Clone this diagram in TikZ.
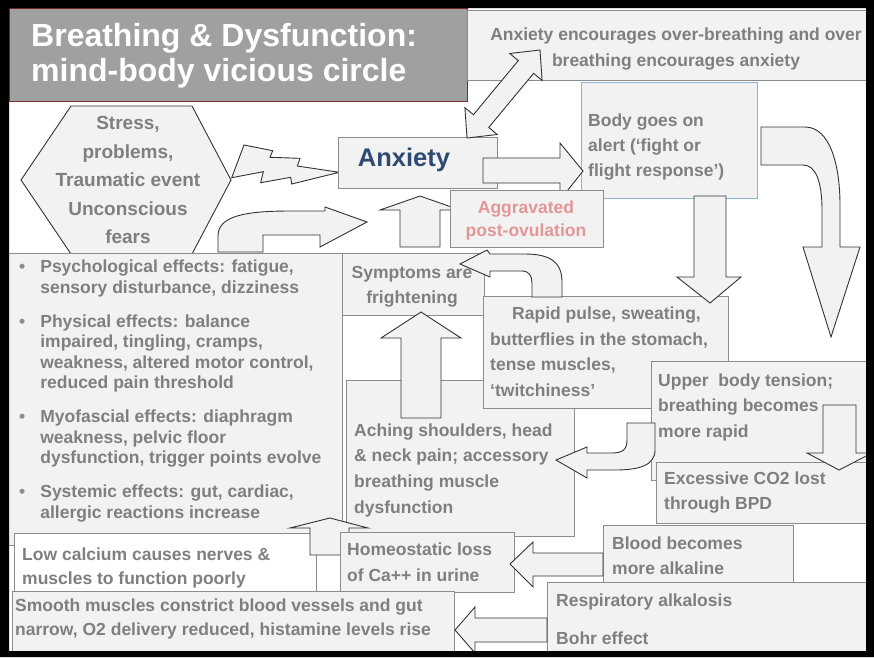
\documentclass[tikz,border=0pt]{standalone}
\usepackage{fontspec}
\setmainfont{Liberation Sans}
\usetikzlibrary{calc,positioning}

\definecolor{boxfill}{HTML}{F2F2F2}
\definecolor{boxline}{HTML}{8C8C8C}
\definecolor{txtgray}{HTML}{7F7F7F}
\definecolor{titlegray}{HTML}{A0A0A0}
\definecolor{titleline}{HTML}{7A2E2E}
\definecolor{anxblue}{HTML}{2E4A72}
\definecolor{alertblue}{HTML}{8DB3D6}
\definecolor{ovupink}{HTML}{E39696}
\definecolor{arrowline}{HTML}{333333}

\begin{document}
\begin{tikzpicture}[x=1pt,y=-1pt,
    box/.style={draw=boxline,fill=boxfill,line width=0.8pt,inner sep=0pt,anchor=north west},
    blk/.style={draw=arrowline,fill=boxfill,line width=0.9pt,line join=miter},
    txt/.style={text=txtgray,inner sep=0pt,align=left,anchor=west,
                font=\bfseries\fontsize{17.5}{25.5}\selectfont}]
\useasboundingbox (0,0) rectangle (874,657);
\fill[white] (0,0) rectangle (874,657);

% title and top line
\node[box,draw=titleline,fill=titlegray,minimum width=458pt,minimum height=93pt] (title) at (9,8) {};
\node[txt,text=white,font=\bfseries\fontsize{32}{35}\selectfont] (titlet) at (31,55.3)
  {Breathing \& Dysfunction:\\mind-body vicious circle};
\node[box,minimum width=430pt,minimum height=70pt] (loop) at (467,10) {};
\node[txt,align=center,anchor=center,font=\bfseries\fontsize{17.5}{26}\selectfont] (loopt) at (676,48.8)
  {Anxiety encourages over-breathing and over\\breathing encourages anxiety};

% stress and anxiety
\draw[fill=boxfill,draw=arrowline,line width=0.9pt] (21,180) -- (71,106) -- (192,106) -- (231,180) -- (192,254) -- (71,254) -- cycle;
\node[txt,align=center,anchor=center,font=\bfseries\fontsize{19}{28.5}\selectfont] (stress) at (128,180)
  {Stress,\\problems,\\Traumatic event\\Unconscious\\fears};
\draw[blk] (231.7,177.7) -- (244,145) -- (272.7,150.7) -- (270,157.3) -- (300,158.3) -- (297.3,166)
  -- (339.3,172.3) -- (291.7,184) -- (290.7,177.3) -- (260.7,182.7) -- (263.3,171.7) -- cycle;
\node[box,minimum width=159pt,minimum height=51pt] (anx) at (338,137) {};
\node[txt,anchor=center,text=anxblue,font=\bfseries\fontsize{25.5}{30}\selectfont] (anxt) at (404,159.6) {Anxiety};
\draw[blk] (467,138) -- (497.2,134.5) -- (488.8,127.4) -- (533.6,73.3) -- (542.1,80.4) -- (540,50)
  -- (509.8,53.5) -- (518.3,60.6) -- (473.4,114.7) -- (464.9,107.7) -- cycle;

% fight or flight
\node[box,draw=alertblue,minimum width=176pt,minimum height=116pt] (alert) at (581,82) {};
\node[txt,font=\bfseries\fontsize{17.5}{25}\selectfont] (alertt) at (588,146.8)
  {Body goes on\\alert (‘fight or\\flight response’)};
\draw[blk] (483,158) -- (560,158) -- (560,143) -- (583,171) -- (560,200) -- (560,183) -- (483,183) -- cycle;
\draw[blk] (761,127) -- (805,127) .. controls (830,127) and (840,165) .. (840,205) -- (840,247)
  -- (860,247) -- (831,337) -- (803,247) -- (822,247) -- (822,210)
  .. controls (822,180) and (815,165) .. (803,165) -- (761,165) -- cycle;

% effects list
\node[box,minimum width=334pt,minimum height=292pt] (effects) at (8,253) {};
\node[txt,font=\bfseries\fontsize{17.5}{20.5}\selectfont] (effectst) at (19,391.2) {%
  \begin{tabular}{@{}l@{\hspace{15pt}}l@{}}
  \textcolor{boxline}{\textbullet} & Psychological effects: fatigue,\\
   & sensory disturbance, dizziness\\[13.5pt]
  \textcolor{boxline}{\textbullet} & Physical effects: balance\\
   & impaired, tingling, cramps,\\
   & weakness, altered motor control,\\
   & reduced pain threshold\\[13.5pt]
  \textcolor{boxline}{\textbullet} & Myofascial effects: diaphragm\\
   & weakness, pelvic floor\\
   & dysfunction, trigger points evolve\\[13.5pt]
  \textcolor{boxline}{\textbullet} & Systemic effects: gut, cardiac,\\
   & allergic reactions increase
  \end{tabular}};
\draw[blk] (218,252) -- (218,236) .. controls (218,216) and (245,211) .. (290,211) -- (325,211)
  -- (325,207) -- (367,222) -- (320,247) -- (320,235) -- (263,235) -- (263,252) -- cycle;
\draw[blk] (400,247) -- (400,210) -- (380,210) -- (420,196) -- (460,210) -- (440,210) -- (440,247) -- cycle;
\node[box,minimum width=153pt,minimum height=57pt] (aggr) at (450,190) {};
\node[txt,align=center,anchor=center,text=ovupink,font=\bfseries\fontsize{17.5}{23}\selectfont] (aggrt) at (526,220.3)
  {Aggravated\\post-ovulation};

% symptoms
\node[box,minimum width=142pt,minimum height=62pt] (sympt) at (342,253) {};
\node[txt,align=center,anchor=center,font=\bfseries\fontsize{17.5}{25}\selectfont] (symptt) at (412,286.3)
  {Symptoms are\\frightening};
\node[box,minimum width=228pt,minimum height=156pt] (ache) at (346,380) {};
\node[txt,font=\bfseries\fontsize{17.5}{25.7}\selectfont] (achet) at (354,470.3)
  {Aching shoulders, head\\\& neck pain; accessory\\breathing muscle\\dysfunction};
\draw[blk] (401,418) -- (401,338) -- (381,338) -- (421,312) -- (461,338) -- (441,338) -- (441,418) -- cycle;
\node[box,minimum width=245pt,minimum height=112pt] (rapid) at (483,296) {};
\node[txt] (rapidt) at (490,351.5)
  {\hspace*{22pt}Rapid pulse, sweating,\\butterflies in the stomach,\\tense muscles,\\‘twitchiness’};
\draw[blk] (562,297) -- (562,282) .. controls (562,262) and (550,254) .. (525,254) -- (490,254)
  -- (487,250) -- (460,264) -- (490,277) -- (490,271) -- (522,271)
  .. controls (529,271) and (532,276) .. (532,283) -- (532,297) -- cycle;
\draw[blk] (694,196) -- (726,196) -- (726,277) -- (741,277) -- (710,303) -- (677,277) -- (694,277) -- cycle;

% breathing
\node[box,minimum width=230pt,minimum height=119pt] (upper) at (651,361) {};
\node[txt] (uppert) at (658,407.3) {Upper~ body tension;\\breathing becomes\\more rapid};
\node[box,minimum width=230pt,minimum height=61pt] (excess) at (656,462) {};
\node[txt,font=\bfseries\fontsize{17.5}{25}\selectfont] (excesst) at (664,492.3) {Excessive CO2 lost\\through BPD};
\draw[blk] (823,405) -- (856,405) -- (856,453) -- (872,453) -- (839,470) -- (807,453) -- (823,453) -- cycle;
\draw[blk] (627,423) -- (655,423) -- (655,450) .. controls (655,465) and (640,470) .. (615,470) -- (587,470)
  -- (587,478) -- (556,460) -- (587,447) -- (587,453) -- (612,453)
  .. controls (622,453) and (627,450) .. (627,440) -- cycle;

% calcium
\node[box,fill=white,minimum width=302pt,minimum height=61pt] (lowca) at (14,533) {};
\node[txt,font=\bfseries\fontsize{17.5}{24}\selectfont] (lowcat) at (22,567.8)
  {Low calcium causes nerves \&\\muscles to function poorly};
\draw[blk] (310,555) -- (310,528) -- (290,528) -- (330,518) -- (368,528) -- (349,528) -- (349,555) -- cycle;
\node[box,minimum width=174pt,minimum height=60pt] (homeo) at (340,532) {};
\node[txt,font=\bfseries\fontsize{17.5}{26}\selectfont] (homeot) at (347,562) {Homeostatic loss\\of Ca++ in urine};
\node[box,minimum width=190pt,minimum height=57pt] (blood) at (603,525) {};
\node[txt,font=\bfseries\fontsize{17.5}{25}\selectfont] (bloodt) at (612,555.5) {Blood becomes\\more alkaline};
\draw[blk] (603,553) -- (533,553) -- (533,542) -- (510,564) -- (533,587) -- (533,576) -- (603,576) -- cycle;

% bottom row
\node[box,minimum width=442pt,minimum height=64pt] (smooth) at (12,591) {};
\node[txt,font=\bfseries\fontsize{17.5}{24}\selectfont] (smootht) at (15,618.8)
  {Smooth muscles constrict blood vessels and gut\\narrow, O2 delivery reduced, histamine levels rise};
\node[box,minimum width=333pt,minimum height=73pt] (resp) at (547,582) {};
\node[txt,font=\bfseries\fontsize{17.5}{38}\selectfont] (respt) at (556,619) {Respiratory alkalosis\\Bohr effect};
\draw[blk] (547,618) -- (475,618) -- (475,607) -- (455,630) -- (475,653) -- (475,642) -- (547,642) -- cycle;

% frame
\fill[black,even odd rule] (0,0) rectangle (874,657) (9,8) rectangle (866,651);
\end{tikzpicture}
\end{document}
